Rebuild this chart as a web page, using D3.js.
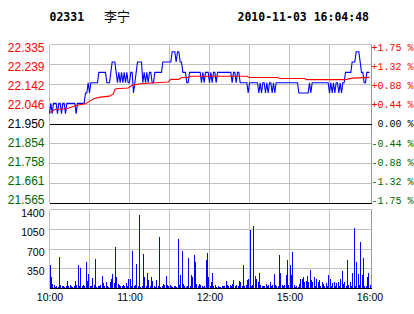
<!DOCTYPE html>
<html><head><meta charset="utf-8">
<script src="https://cdn.jsdelivr.net/npm/d3@7/dist/d3.min.js"></script>
<style>
html,body{margin:0;padding:0;background:#fff;}
svg{display:block;}
</style></head>
<body>
<script>
// ---- data ----
const stockCode = "02331";
const stockName = "李宁";
const stamp = "2010-11-03 16:04:48";
const prevClose = 21.95;
const priceTicks = [22.335, 22.239, 22.142, 22.046, 21.950, 21.854, 21.758, 21.661, 21.565];
const pctTicks = [1.75, 1.32, 0.88, 0.44, 0, -0.44, -0.88, -1.32, -1.75];
const pctLabels = ["+1.75 %", "+1.32 %", "+0.88 %", "+0.44 %", "0.00 %", "-0.44 %", "-0.88 %", "-1.32 %", "-1.75 %"];
const volTicks = [1400, 1050, 700, 350];
const timeTickMinutes = [0, 60, 120, 180, 240];
const timeLabels = ["10:00", "11:00", "12:00", "15:00", "16:00"];
const gridMinutes = [30, 60, 90, 120, 150, 180, 210];

// price per minute (index = minutes after 10:00 on the compressed session axis)
const price = [
22.00,22.05,22.00,22.05,22.05,22.05,22.00,22.05,22.05,22.00,
22.05,22.05,22.00,22.05,22.05,22.05,22.05,22.05,22.05,22.05,
22.00,22.05,22.05,22.05,22.05,22.05,22.05,22.10,22.10,22.15,
22.10,22.15,22.15,22.15,22.15,22.15,22.15,22.20,22.20,22.20,
22.20,22.20,22.20,22.15,22.15,22.15,22.20,22.25,22.25,22.25,
22.20,22.15,22.20,22.15,22.20,22.15,22.20,22.15,22.20,22.15,
22.15,22.20,22.20,22.10,22.15,22.20,22.25,22.25,22.25,22.25,
22.15,22.20,22.15,22.20,22.15,22.20,22.20,22.15,22.15,22.20,
22.20,22.20,22.20,22.20,22.20,22.25,22.25,22.25,22.25,22.25,
22.25,22.25,22.30,22.30,22.30,22.25,22.30,22.30,22.25,22.25,
22.20,22.20,22.20,22.15,22.15,22.20,22.20,22.20,22.20,22.20,
22.20,22.20,22.20,22.20,22.15,22.20,22.15,22.20,22.20,22.20,
22.15,22.20,22.15,22.20,22.20,22.15,22.20,22.20,22.20,22.20,
22.20,22.20,22.20,22.20,22.20,22.20,22.20,22.15,22.20,22.20,
22.15,22.20,22.20,22.15,22.15,22.15,22.15,22.15,22.15,22.10,
22.15,22.15,22.15,22.15,22.15,22.15,22.15,22.10,22.15,22.10,
22.15,22.15,22.10,22.15,22.10,22.15,22.15,22.10,22.15,22.10,
22.15,22.15,22.15,22.15,22.15,22.15,22.15,22.15,22.15,22.15,
22.15,22.15,22.15,22.15,22.15,22.15,22.15,22.10,22.10,22.10,
22.10,22.10,22.10,22.10,22.10,22.15,22.10,22.15,22.15,22.15,
22.15,22.15,22.15,22.15,22.15,22.15,22.15,22.15,22.15,22.15,
22.10,22.15,22.10,22.15,22.10,22.15,22.15,22.10,22.15,22.10,
22.15,22.15,22.20,22.20,22.20,22.20,22.20,22.25,22.25,22.25,
22.30,22.30,22.30,22.25,22.20,22.20,22.15,22.15,22.20,22.20,22.20
];

// average price line, read at its bends
const avgMinute = [0, 4, 13, 20, 27, 29, 33, 38, 45, 48, 49, 50, 59, 62, 68, 89, 91, 97, 99, 104, 106, 148, 150, 171, 173, 191, 193, 222, 227, 240];
const avgPrice  = [22.004, 22.020, 22.024, 22.040, 22.048, 22.056, 22.072, 22.080, 22.085, 22.097, 22.118, 22.121, 22.124, 22.137, 22.145, 22.153, 22.166, 22.166, 22.175, 22.175, 22.181, 22.181, 22.175, 22.175, 22.170, 22.170, 22.165, 22.165, 22.172, 22.176];

// volume per minute
const volume = [
414,195,77,60,30,40,30,561,60,50,
40,30,50,136,40,70,50,30,40,136,
60,414,50,355,40,70,40,473,136,254,
40,50,189,60,520,30,50,50,60,219,
106,40,118,41,30,118,177,254,100,727,
207,77,60,40,40,60,50,100,40,177,
177,50,662,40,60,431,50,1300,30,40,
609,195,40,266,148,40,195,130,40,30,
148,40,910,30,40,77,60,219,60,40,
60,40,30,50,40,30,875,60,236,662,
77,40,30,40,538,40,236,195,591,473,
77,40,77,60,40,30,40,502,632,195,
40,118,278,40,60,30,41,30,20,41,
41,40,130,60,40,70,50,77,148,40,
60,40,130,118,50,414,40,60,148,165,
1034,50,60,1105,219,177,120,266,60,40,
41,50,77,50,60,118,40,60,254,60,
40,50,591,278,60,40,60,236,502,60,
414,236,644,60,30,41,30,77,177,160,
195,118,130,219,118,325,148,118,195,50,
160,118,148,50,118,77,40,89,40,236,
177,40,89,118,40,89,118,40,160,307,
77,118,40,502,60,118,40,278,1081,41,
467,254,60,827,236,532,40,40,195,278,60
];

// ---- layout ----
const W = 414, H = 314;
const L = 49.5, R = 371.5;
const pTop = 44.5, pBot = 203.5;
const vTop = 209.5, vBot = 288.5;
const RED = "#ff0000", GREEN = "#006600", GRID = "#c0c0c0";

const svg = d3.select("body").append("svg").attr("width", W).attr("height", H);

const x = d3.scaleLinear().domain([0, 240]).range([L, L + 320]);
const y = d3.scaleLinear().domain([21.565, 22.335]).range([pBot, pTop]);
const yLab = d3.scaleLinear().domain([21.565, 22.335]).range([200, 47.5]);
const pctLab = d3.scaleLinear().domain([-1.75, 1.75]).range([200, 47.5]);
const v = d3.scaleLinear().domain([0, 1400]).range([vBot, vTop]);
const vLab = d3.scaleLinear().domain([0, 1400]).range([290.5, 213.3]);
const half = p => Math.round(p - 0.5) + 0.5;

// ---- title ----
const mono = "'DejaVu Sans Mono', 'Liberation Mono', monospace";
svg.append("text").attr("x", 49.5).attr("y", 20.5).attr("font-family", mono).attr("font-weight", "bold")
  .attr("font-size", 11.5).attr("fill", "#000").text(stockCode);
svg.append("text").attr("x", 104).attr("y", 21).attr("font-family", "'Noto Sans CJK SC', sans-serif")
  .attr("font-size", 13).attr("fill", "#000").text(stockName);
svg.append("text").attr("x", 237.5).attr("y", 20.5).attr("font-family", mono).attr("font-weight", "bold")
  .attr("font-size", 11.5).attr("fill", "#000").text(stamp);

// ---- price panel grid ----
const g = svg.append("g").attr("shape-rendering", "crispEdges");
g.selectAll("line.hg").data(priceTicks).join("line")
  .attr("x1", L).attr("x2", R)
  .attr("y1", d => half(y(d))).attr("y2", d => half(y(d)))
  .attr("stroke", d => (Math.abs(d - prevClose) < 1e-6 || d === 21.565) ? "#000" : GRID);
g.selectAll("line.vg").data(gridMinutes).join("line")
  .attr("x1", d => half(x(d))).attr("x2", d => half(x(d)))
  .attr("y1", pTop).attr("y2", pBot - 1)
  .attr("stroke", GRID);
g.append("line").attr("x1", L).attr("x2", L).attr("y1", pTop).attr("y2", pBot - 1).attr("stroke", GRID);
g.append("line").attr("x1", R).attr("x2", R).attr("y1", pTop).attr("y2", pBot - 1).attr("stroke", "#999");
g.append("line").attr("x1", L).attr("x2", R).attr("y1", half(y(prevClose))).attr("y2", half(y(prevClose))).attr("stroke", "#000");
g.append("line").attr("x1", L).attr("x2", R).attr("y1", half(y(21.565))).attr("y2", half(y(21.565))).attr("stroke", "#000");

// ---- volume panel grid ----
const gv = svg.append("g").attr("shape-rendering", "crispEdges");
gv.selectAll("line.hg").data(volTicks).join("line")
  .attr("x1", L).attr("x2", R)
  .attr("y1", d => half(v(d))).attr("y2", d => half(v(d)))
  .attr("stroke", GRID);
gv.selectAll("line.vg").data(gridMinutes).join("line")
  .attr("x1", d => half(x(d))).attr("x2", d => half(x(d)))
  .attr("y1", vTop).attr("y2", vBot)
  .attr("stroke", GRID);
gv.append("line").attr("x1", L).attr("x2", L).attr("y1", vTop).attr("y2", vBot).attr("stroke", GRID);
gv.append("line").attr("x1", R).attr("x2", R).attr("y1", vTop).attr("y2", vBot).attr("stroke", "#999");

// volume bars
gv.selectAll("rect.bar").data(volume).join("rect")
  .attr("x", (d, i) => Math.round(x(i)))
  .attr("width", 1)
  .attr("y", d => Math.round(v(d)))
  .attr("height", d => Math.max(0, Math.round(vBot - 0.5) - Math.round(v(d))))
  .attr("fill", "#0000ff");
gv.append("line").attr("x1", L).attr("x2", R).attr("y1", vBot).attr("y2", vBot).attr("stroke", "#000");

// ---- price & average lines ----
const line = d3.line().x((d, i) => x(i)).y(d => y(d));
svg.append("path").datum(price).attr("d", line).attr("fill", "none").attr("stroke", "#0000ff").attr("stroke-width", 1.1);
const avgLine = d3.line().x(d => x(d[0])).y(d => y(d[1]));
svg.append("path").datum(avgMinute.map((m, i) => [m, avgPrice[i]])).attr("d", avgLine)
  .attr("fill", "none").attr("stroke", "#ff0000").attr("stroke-width", 1.1);

// ---- axes ----
const sans = "'Liberation Sans', Arial, sans-serif";
const colorFor = d => d > 1e-9 ? RED : (d < -1e-9 ? GREEN : "#000");

const ax = svg.append("g").attr("transform", "translate(44.5,0)")
  .call(d3.axisLeft(yLab).tickValues(priceTicks).tickSize(0).tickPadding(0).tickFormat(d3.format(".3f")));
ax.select(".domain").remove();
ax.selectAll("text").attr("font-family", sans).attr("font-size", 12)
  .attr("fill", d => colorFor(d - prevClose));

const axR = svg.append("g")
  .call(d3.axisRight(pctLab).tickValues(pctTicks).tickSize(0).tickPadding(0).tickFormat((d, i) => pctLabels[i]));
axR.select(".domain").remove();
axR.selectAll("text").attr("x", 413.5).attr("text-anchor", "end")
  .attr("font-family", "'Liberation Mono', 'DejaVu Sans Mono', monospace").attr("font-size", 10)
  .attr("fill", d => colorFor(d));

const axV = svg.append("g").attr("transform", "translate(44.5,0)")
  .call(d3.axisLeft(vLab).tickValues(volTicks).tickSize(0).tickPadding(0).tickFormat(d3.format("d")));
axV.select(".domain").remove();
axV.selectAll("text").attr("font-family", sans).attr("font-size", 10.5).attr("fill", "#000");

const axT = svg.append("g").attr("transform", "translate(0,290.8)")
  .call(d3.axisBottom(x).tickValues(timeTickMinutes).tickSize(0).tickPadding(3).tickFormat((d, i) => timeLabels[i]));
axT.select(".domain").remove();
axT.selectAll("text").attr("font-family", sans).attr("font-size", 10.5).attr("fill", "#000");
</script>
</body></html>
